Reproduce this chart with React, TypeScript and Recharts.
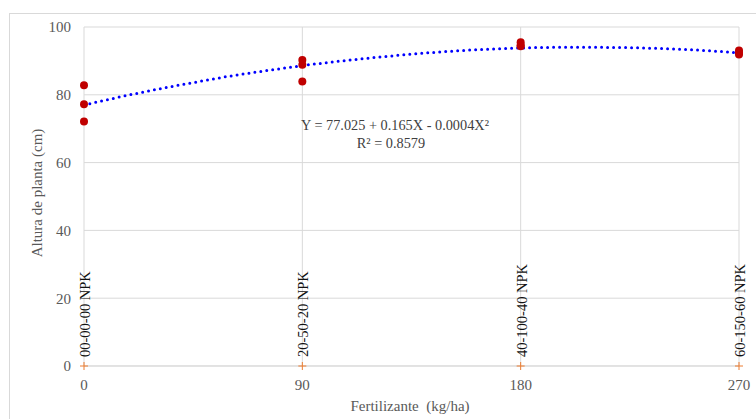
import {
  ComposedChart,
  Scatter,
  Line,
  XAxis,
  YAxis,
  CartesianGrid,
} from 'recharts'

// dose levels (kg/ha) and treatment names
const doseX = [0, 90, 180, 270]
const npkLabels = ['00-00-00 NPK', '20-50-20 NPK', '40-100-40 NPK', '60-150-60 NPK']

const obsX = [0, 0, 0, 90, 90, 90, 180, 180, 180, 270, 270, 270]
const obsY = [82.8, 77.2, 72.1, 90.3, 88.9, 83.9, 95.5, 94.6, 94.3, 93.1, 92.4, 91.9]

// dotted trend curve
const trendX = [0, 15, 30, 45, 60, 75, 90, 105, 120, 135, 150, 165, 180, 195, 210, 225, 240, 255, 270]
const trendY = [77.0, 79.4, 81.6, 83.6, 85.5, 87.1, 88.6, 89.9, 91.0, 92.0, 92.8, 93.4, 93.8, 94.0, 94.0, 93.9, 93.6, 93.1, 92.4]

const yTicks = [0, 20, 40, 60, 80, 100]

const serif = 'Liberation Serif'

const observed = obsX.map((x, i) => ({ x, y: obsY[i] }))
const trend = trendX.map((x, i) => ({ x, y: trendY[i] }))
const baseMarks = doseX.map((x, i) => ({ x, y: 0, name: npkLabels[i] }))

const RedDot = (props: any) => {
  const { cx, cy } = props
  if (cx == null || cy == null) return null
  return <circle cx={cx} cy={cy} r={4} fill="#c00000" />
}

const PlusMark = (props: any) => {
  const { cx, cy, payload } = props
  if (cx == null || cy == null) return null
  const tx = cx + 6
  const ty = cy - 9
  return (
    <g>
      <line x1={cx - 4} x2={cx + 4} y1={cy} y2={cy} stroke="#ed7d31" strokeWidth={1} />
      <line x1={cx} x2={cx} y1={cy - 4} y2={cy + 4} stroke="#ed7d31" strokeWidth={1} />
      <text
        x={tx}
        y={ty}
        transform={`rotate(-90 ${tx} ${ty})`}
        textAnchor="start"
        style={{ fontFamily: serif, fontSize: 14.5 }}
        fill="#111"
      >
        {payload.name}
      </text>
    </g>
  )
}

export default function App() {
  return (
    <div
      style={{
        position: 'fixed',
        left: 0,
        top: 0,
        width: 756,
        height: 419,
        overflow: 'hidden',
        background: '#fff',
        fontFamily: serif,
      }}
    >
      <div
        style={{
          position: 'absolute',
          left: 9,
          top: 13,
          width: 800,
          height: 500,
          border: '1px solid #d9d9d9',
        }}
      />
      <div style={{ position: 'absolute', left: 0, top: 0, fontFamily: serif }}>
        <ComposedChart
          width={756}
          height={419}
          margin={{ top: 27, right: 17, left: 24, bottom: 23 }}
          style={{ fontFamily: serif }}
        >
          <CartesianGrid stroke="#d9d9d9" strokeWidth={1} />
          <XAxis
            type="number"
            dataKey="x"
            domain={[0, 270]}
            ticks={doseX}
            height={30}
            axisLine={{ stroke: '#d9d9d9' }}
            tickLine={false}
            tickSize={0}
            tickMargin={13}
            tick={{ fill: '#595959', fontSize: 15, style: { fontFamily: serif } }}
          />
          <YAxis
            type="number"
            dataKey="y"
            domain={[0, 100]}
            ticks={yTicks}
            width={60}
            axisLine={false}
            tickLine={false}
            tickSize={0}
            tickMargin={13}
            tick={{ fill: '#595959', fontSize: 15, style: { fontFamily: serif } }}
          />
          <Line
            data={trend}
            dataKey="y"
            type="monotone"
            stroke="#0000ff"
            strokeWidth={3}
            strokeDasharray="0 6"
            strokeLinecap="round"
            dot={false}
            activeDot={false}
            isAnimationActive={false}
          />
          <Scatter
            data={observed}
            dataKey="y"
            shape={RedDot}
            isAnimationActive={false}
          />
          <Scatter
            data={baseMarks}
            dataKey="y"
            shape={PlusMark}
            isAnimationActive={false}
          />
        </ComposedChart>
      </div>
      <div
        style={{
          position: 'absolute',
          left: 395,
          top: 125,
          transform: 'translate(-50%, -50%)',
          whiteSpace: 'nowrap',
          fontSize: 14.3,
          color: '#404040',
          lineHeight: '18px',
        }}
      >
        Y = 77.025 + 0.165X - 0.0004X²
      </div>
      <div
        style={{
          position: 'absolute',
          left: 391,
          top: 143,
          transform: 'translate(-50%, -50%)',
          whiteSpace: 'nowrap',
          fontSize: 14.3,
          color: '#404040',
          lineHeight: '18px',
        }}
      >
        R² = 0.8579
      </div>
      <div
        style={{
          position: 'absolute',
          left: 410,
          top: 406,
          transform: 'translate(-50%, -50%)',
          whiteSpace: 'nowrap',
          fontSize: 15,
          color: '#595959',
          lineHeight: '18px',
        }}
      >
        Fertilizante&nbsp; (kg/ha)
      </div>
      <div
        style={{
          position: 'absolute',
          left: 37,
          top: 193,
          transform: 'translate(-50%, -50%) rotate(-90deg)',
          whiteSpace: 'nowrap',
          fontSize: 15,
          color: '#595959',
          lineHeight: '18px',
        }}
      >
        Altura de planta (cm)
      </div>
    </div>
  )
}
